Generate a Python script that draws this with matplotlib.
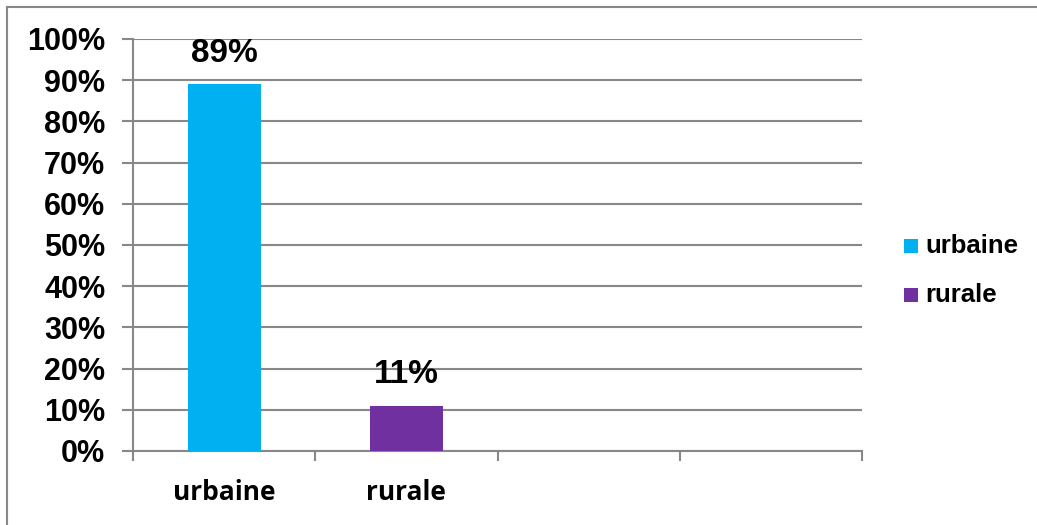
import matplotlib
matplotlib.use("Agg")
import matplotlib.pyplot as plt
from matplotlib.lines import Line2D
from matplotlib.patches import Rectangle

categories = ["urbaine", "rurale"]
values = [0.89, 0.11]
labels = ["89%", "11%"]
colors = ["#00B0F0", "#7030A0"]
yticks = [0, 0.1, 0.2, 0.3, 0.4, 0.5, 0.6, 0.7, 0.8, 0.9, 1.0]
ytick_labels = ["0%", "10%", "20%", "30%", "40%", "50%", "60%", "70%", "80%", "90%", "100%"]

W, H = 1037, 525
fig = plt.figure(figsize=(W / 100, H / 100), dpi=100)
ax = fig.add_axes([133 / W, 1 - 451 / H, (862 - 133) / W, (451 - 39) / H])

grid_c = "#888888"
xpos = [0.5, 1.5]
for x, v, c, lab in zip(xpos, values, colors, labels):
    ax.bar(x, v, width=0.4, color=c, zorder=3)
    ax.annotate(lab, (x, v), xytext=(0, 16), textcoords="offset points",
                ha="center", va="baseline", fontsize=24, fontweight="bold",
                family="Liberation Sans", color="black")

ax.set_xlim(0, 4)
ax.set_ylim(0, 1)
ax.set_yticks(yticks)
ax.set_yticklabels(ytick_labels, fontsize=22, fontweight="bold", family="Liberation Sans")
ax.set_xticks([0, 1, 2, 3, 4])
ax.set_xticklabels([])
ax.set_xticks(xpos, minor=True)
ax.set_xticklabels(categories, minor=True, fontsize=19, fontweight="bold", family="Open Sans")
ax.tick_params(axis="x", which="minor", length=0, pad=20)
ax.tick_params(axis="x", which="major", length=7, width=1.5, color=grid_c, direction="out")
ax.tick_params(axis="y", length=8, width=1.5, color=grid_c, direction="out", pad=12)
ax.grid(axis="y", color=grid_c, linewidth=1.5, zorder=0)
for s in ["top", "right"]:
    ax.spines[s].set_visible(False)
for s in ["left", "bottom"]:
    ax.spines[s].set_color(grid_c)
    ax.spines[s].set_linewidth(1.5)

# legend drawn manually
leg_x0 = 904
leg_y0 = 253
row_gap = 49
for i, (c, name) in enumerate(zip(colors, categories)):
    yb = leg_y0 + i * row_gap
    fig.add_artist(Rectangle((leg_x0 / W, 1 - yb / H), 14 / W, 14 / H,
                             facecolor=c, edgecolor="none", transform=fig.transFigure))
    fig.text((leg_x0 + 21) / W, 1 - yb / H, name, fontsize=18.5, fontweight="bold",
             family="Liberation Sans", va="baseline", ha="left")

# figure border (top and left visible)
fig.add_artist(Line2D([7 / W, 1], [1 - 7 / H, 1 - 7 / H], color="#888888", linewidth=1.5))
fig.add_artist(Line2D([7 / W, 7 / W], [0, 1 - 7 / H], color="#888888", linewidth=1.5))

fig.savefig("out.png", dpi=100)
